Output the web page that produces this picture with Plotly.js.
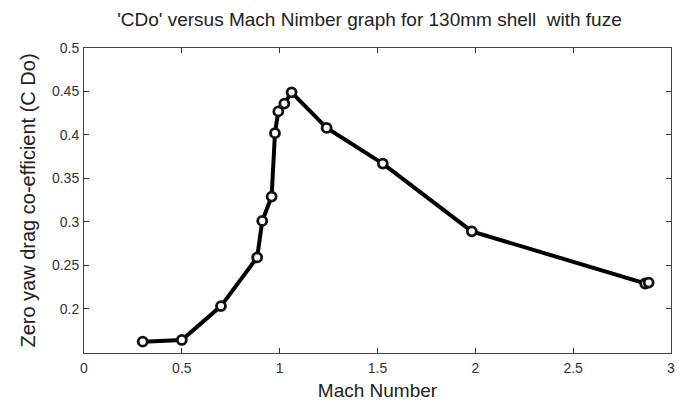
<!DOCTYPE html>
<html>
<head>
<meta charset="utf-8">
<script src="https://cdn.plot.ly/plotly-3.0.1.min.js"></script>
<style>
  html, body { margin: 0; padding: 0; background: #fff; }
  #chart { width: 688px; height: 405px; }
</style>
</head>
<body>
<div id="chart"></div>
<script>
// Zero-yaw drag coefficient against Mach number, 130mm shell with fuze
const machNumber = [0.30, 0.50, 0.70, 0.885, 0.911, 0.959, 0.976, 0.993, 1.024, 1.061, 1.240, 1.527, 1.982, 2.868, 2.886];
const cdo        = [0.162, 0.164, 0.203, 0.259, 0.301, 0.329, 0.402, 0.427, 0.436, 0.449, 0.408, 0.367, 0.289, 0.229, 0.230];
const xTickVals  = [0, 0.5, 1, 1.5, 2, 2.5, 3];
const xTickText  = ['0', '0.5', '1', '1.5', '2', '2.5', '3'];
const yTickVals  = [0.2, 0.25, 0.3, 0.35, 0.4, 0.45, 0.5];
const yTickText  = ['0.2', '0.25', '0.3', '0.35', '0.4', '0.45', '0.5'];

const FONT = 'Liberation Sans, Arial, sans-serif';

const axisCommon = {
  showline: true,
  linecolor: '#444',
  linewidth: 1,
  mirror: 'ticks',
  ticks: 'inside',
  ticklen: 5,
  tickwidth: 1,
  tickcolor: '#333',
  showgrid: false,
  zeroline: false,
  tickmode: 'array',
  tickfont: { family: FONT, size: 14, color: '#333' }
};

const trace = {
  x: machNumber,
  y: cdo,
  mode: 'lines+markers',
  line: { color: '#000', width: 4 },
  marker: { symbol: 'circle', size: 9, color: '#fff', line: { color: '#111', width: 2.8 } },
  hoverinfo: 'x+y'
};

const layout = {
  width: 688,
  height: 405,
  margin: { l: 84, r: 17, t: 48, b: 52 },
  paper_bgcolor: '#fff',
  plot_bgcolor: '#fff',
  showlegend: false,
  title: {
    text: "'CDo' versus Mach Nimber graph for 130mm shell  with fuze",
    font: { family: FONT, size: 19, color: '#222' },
    x: 0.537, xanchor: 'center',
    yref: 'container', y: 0.952, yanchor: 'middle'
  },
  xaxis: Object.assign({}, axisCommon, {
    range: [0, 3],
    tickvals: xTickVals,
    ticktext: xTickText,
    ticklabelstandoff: 2,
    title: { text: 'Mach Number', font: { family: FONT, size: 19, color: '#222' }, standoff: 8 }
  }),
  yaxis: Object.assign({}, axisCommon, {
    range: [0.149, 0.5],
    tickvals: yTickVals,
    ticktext: yTickText,
    ticklabelstandoff: 1,
    title: { text: 'Zero yaw drag co-efficient (C Do)', font: { family: FONT, size: 20, color: '#222' }, standoff: 10 }
  })
};

Plotly.newPlot('chart', [trace], layout, { displayModeBar: false, staticPlot: true });
</script>
</body>
</html>
